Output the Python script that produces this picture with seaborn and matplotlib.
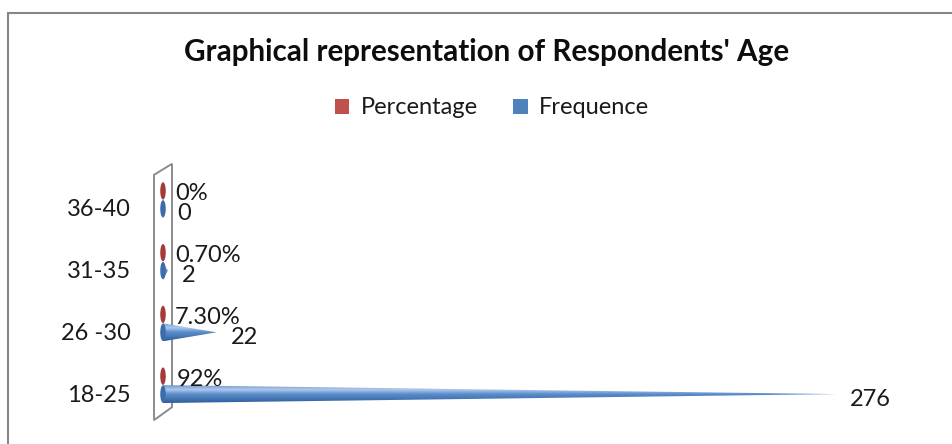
import numpy as np
import pandas as pd
import matplotlib
matplotlib.use("Agg")
import matplotlib.pyplot as plt
import seaborn as sns
from matplotlib.patches import Polygon, Ellipse, Patch, Rectangle
from matplotlib.colors import LinearSegmentedColormap
from matplotlib.transforms import ScaledTranslation

# ---- data ----
age_groups = ["36-40", "31-35", "26 -30", "18-25"]
frequence = [0, 2, 22, 276]
percentage = [0.0, 0.007, 0.073, 0.92]
percentage_labels = ["0%", "0.70%", "7.30%", "92%"]
series_names = ["Percentage", "Frequence"]
series_colors = ["#C0504D", "#4F81BD"]

sns.set_theme(style="white")
plt.rcParams["font.family"] = ["Lato", "DejaVu Sans"]

df = pd.DataFrame({
    "Age": age_groups * 2,
    "Value": percentage + frequence,
    "Series": [series_names[0]] * 4 + [series_names[1]] * 4,
})

TEXT = "#1a1a1a"
FS = 17

W, H = 952, 444
fig = plt.figure(figsize=(W / 100, H / 100), dpi=100)
ax_left, ax_right, ax_top, ax_bot = 150, 940, 169, 416
ax = fig.add_axes([ax_left / W, 1 - ax_bot / H, (ax_right - ax_left) / W, (ax_bot - ax_top) / H])

sns.barplot(data=df, y="Age", x="Value", hue="Series", hue_order=series_names,
            order=age_groups, orient="h", width=0.58, palette=series_colors,
            ax=ax, legend=False, errorbar=None)

px_per_unit = 673 / 276.0
xmin = -(163 - ax_left) / px_per_unit
xmax = (ax_right - 163) / px_per_unit

# back wall of the 3-D plot area
wall_dx = 9 / px_per_unit
wall = Polygon([(-wall_dx, -0.405), (wall_dx, -0.584), (wall_dx, 3.357), (-wall_dx, 3.567)],
               closed=True, facecolor="white", edgecolor="#8C8C8C", lw=1.4,
               clip_on=False, zorder=1)
ax.add_patch(wall)

cone_maps = {
    series_names[1]: LinearSegmentedColormap.from_list(
        "blue_cone", ["#6F98CF", "#B0C9EC", "#5B8DCB", "#4677B6", "#2E5C98"]),
    series_names[0]: LinearSegmentedColormap.from_list(
        "red_cone", ["#C9706D", "#E3A8A6", "#C0504D", "#A53F3C", "#80302E"]),
}
base_colors = {series_names[1]: "#3D6CAA", series_names[0]: "#A33C39"}
grad = np.linspace(0, 1, 64).reshape(-1, 1)

for name, container in zip(series_names, ax.containers):
    for bar in container:
        bar.set_visible(False)
        x0 = bar.get_x()
        w = bar.get_width()
        y0 = bar.get_y()
        h = bar.get_height()
        yc = y0 + h / 2
        if w > 0:
            cone = Polygon([(x0, y0), (x0 + w, yc), (x0, y0 + h)], closed=True,
                           facecolor="none", edgecolor="none")
            ax.add_patch(cone)
            im = ax.imshow(grad, extent=(x0, x0 + w, y0 + h, y0), origin="upper",
                           aspect="auto", cmap=cone_maps[name], zorder=3,
                           interpolation="bilinear")
            im.set_clip_path(cone)
        ax.add_patch(Ellipse((x0, yc), width=5.5 / px_per_unit, height=h * 0.97,
                             facecolor=base_colors[name], edgecolor="none", zorder=4))

# value labels
for i, (v, lab) in enumerate(zip(percentage, percentage_labels)):
    ax.annotate(lab, xy=(v, i - 0.145), xytext=(12, -3), textcoords="offset pixels",
                ha="left", va="center", fontsize=FS, color=TEXT, zorder=5)
for i, v in enumerate(frequence):
    ax.annotate(str(v), xy=(v, i + 0.145), xytext=(14, -5), textcoords="offset pixels",
                ha="left", va="center", fontsize=FS, color=TEXT, zorder=5)

ax.set_xlim(xmin, xmax)
ax.set_ylim(3.5, -0.5)
ax.set_xlabel("")
ax.set_ylabel("")
ax.set_xticks([])
ax.tick_params(axis="y", length=0, pad=14, labelsize=FS, labelcolor=TEXT)
for lbl in ax.get_yticklabels():
    lbl.set_transform(lbl.get_transform() + ScaledTranslation(0, -8 / 100, fig.dpi_scale_trans))
for s in ax.spines.values():
    s.set_visible(False)
ax.patch.set_alpha(0)

fig.text(0.511, 1 - 52 / H, "Graphical representation of Respondents' Age",
         ha="center", va="center", fontsize=21.3, fontweight="bold", color="#0d0d0d")

handles = [Patch(facecolor=c, edgecolor="none") for c in series_colors]
fig.legend(handles, series_names, loc="center", bbox_to_anchor=(0.517, 1 - 108 / H),
           ncol=2, frameon=False, fontsize=FS, handlelength=0.6, handleheight=0.6,
           handletextpad=0.5, columnspacing=1.5, labelcolor=TEXT)

# chart frame
fig.add_artist(Rectangle((8 / W, -0.1), 1.2, 1 - 13 / H + 0.1, transform=fig.transFigure,
                         facecolor="none", edgecolor="#878787", lw=1.5, zorder=0))

fig.savefig("out.png", dpi=100)
